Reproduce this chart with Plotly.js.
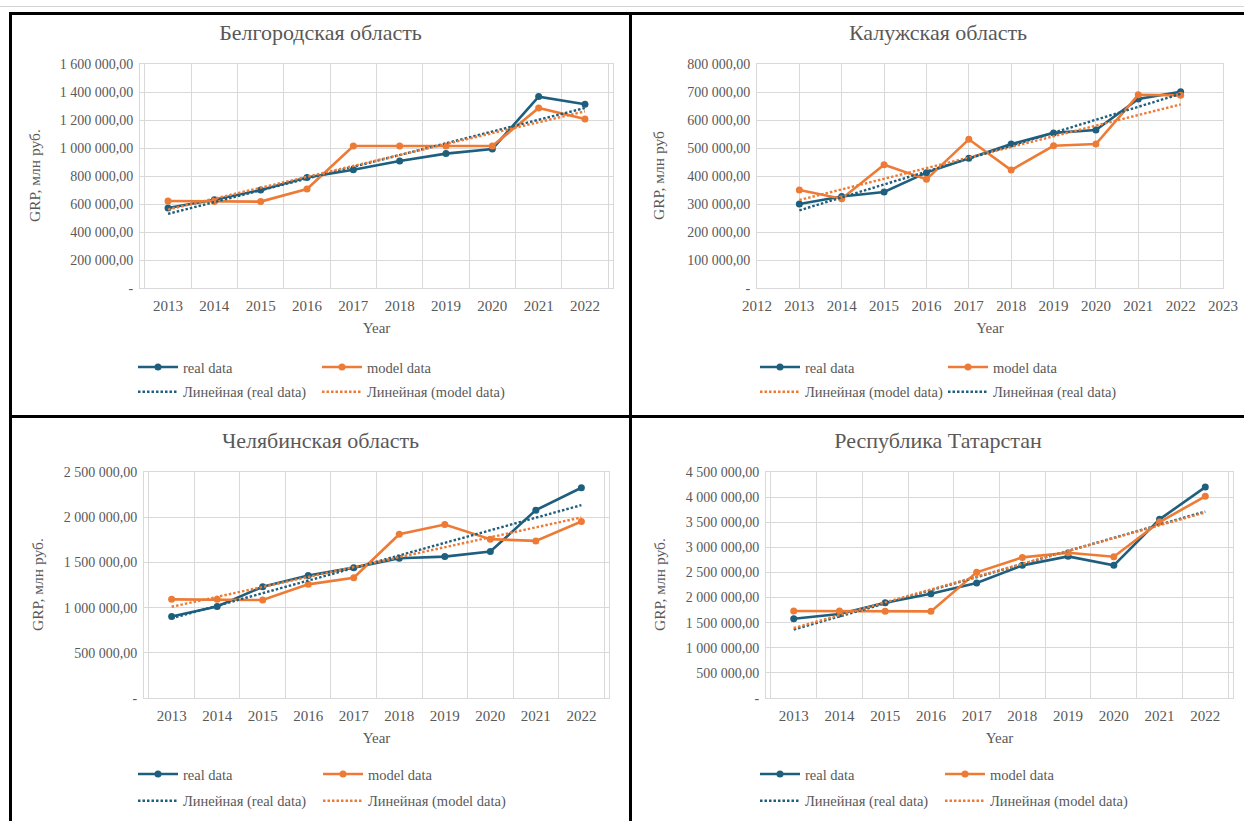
<!DOCTYPE html>
<html>
<head>
<meta charset="utf-8">
<script src="https://cdn.plot.ly/plotly-3.0.1.min.js"></script>
<style>
html,body{margin:0;padding:0;background:#fff;}
body{width:1244px;height:821px;overflow:hidden;position:relative;}
.panel{position:absolute;}
.rule{position:absolute;background:#000;}
</style>
</head>
<body>
<div id="p1" class="panel" style="left:12px;top:15px;width:617px;height:400px"></div>
<div id="p2" class="panel" style="left:632px;top:15px;width:612px;height:400px"></div>
<div id="p3" class="panel" style="left:12px;top:418px;width:617px;height:403px"></div>
<div id="p4" class="panel" style="left:632px;top:418px;width:612px;height:403px"></div>

<div class="rule" style="left:0;top:6px;width:1244px;height:1px;background:#d4d4d4"></div>
<div class="rule" style="left:9px;top:12px;width:1235px;height:3px"></div>
<div class="rule" style="left:9px;top:12px;width:3px;height:809px"></div>
<div class="rule" style="left:629px;top:12px;width:3px;height:809px"></div>
<div class="rule" style="left:9px;top:415px;width:1235px;height:3px"></div>

<script>
// ---------- data ----------
const years = ['2013','2014','2015','2016','2017','2018','2019','2020','2021','2022'];
const yearsNum = [2013,2014,2015,2016,2017,2018,2019,2020,2021,2022];
const kalugaTickYears = [2012,2013,2014,2015,2016,2017,2018,2019,2020,2021,2022,2023];

const belgorodReal  = [571000, 631000, 700000, 790000, 845000, 907000, 960000, 993000, 1367000, 1312000];
const belgorodModel = [621000, 617000, 617000, 707000, 1014000, 1014000, 1014000, 1014000, 1286000, 1207000];

const kalugaReal  = [300000, 327000, 343000, 412000, 463000, 514000, 554000, 564000, 675000, 701000];
const kalugaModel = [350000, 319000, 440000, 388000, 531000, 421000, 508000, 514000, 690000, 688000];

const chelReal  = [902000, 1013000, 1231000, 1354000, 1442000, 1546000, 1564000, 1620000, 2078000, 2326000];
const chelModel = [1091000, 1091000, 1084000, 1257000, 1331000, 1812000, 1919000, 1757000, 1738000, 1953000];

const tatReal  = [1579000, 1672000, 1898000, 2077000, 2289000, 2641000, 2820000, 2641000, 3557000, 4200000];
const tatModel = [1732000, 1732000, 1725000, 1725000, 2502000, 2800000, 2893000, 2813000, 3504000, 4015000];

const belgorodTicks = [0, 200000, 400000, 600000, 800000, 1000000, 1200000, 1400000, 1600000];
const belgorodTickText = ['-', '200 000,00', '400 000,00', '600 000,00', '800 000,00', '1 000 000,00', '1 200 000,00', '1 400 000,00', '1 600 000,00'];
const kalugaTicks = [0, 100000, 200000, 300000, 400000, 500000, 600000, 700000, 800000];
const kalugaTickText = ['-', '100 000,00', '200 000,00', '300 000,00', '400 000,00', '500 000,00', '600 000,00', '700 000,00', '800 000,00'];
const chelTicks = [0, 500000, 1000000, 1500000, 2000000, 2500000];
const chelTickText = ['-', '500 000,00', '1 000 000,00', '1 500 000,00', '2 000 000,00', '2 500 000,00'];
const tatTicks = [0, 500000, 1000000, 1500000, 2000000, 2500000, 3000000, 3500000, 4000000, 4500000];
const tatTickText = ['-', '500 000,00', '1 000 000,00', '1 500 000,00', '2 000 000,00', '2 500 000,00', '3 000 000,00', '3 500 000,00', '4 000 000,00', '4 500 000,00'];

const titles = ['Белгородская область', 'Калужская область', 'Челябинская область', 'Республика Татарстан'];
const yTitles = ['GRP, млн руб.', 'GRP, млн руб', 'GRP, млн руб.', 'GRP, млн руб.'];
const xTitle = 'Year';
const nameReal = 'real data', nameModel = 'model data';
const nameTrendReal = 'Линейная (real data)', nameTrendModel = 'Линейная (model data)';

// ---------- style ----------
const BLUE = '#1f5f7e', ORANGE = '#ee7b35';
const FONT = '"Liberation Serif", "Times New Roman", serif';
const TXT = '#595959', GRID = '#d9d9d9';

// Excel-style linear trendline (least squares over point index)
function trendEnds(ys) {
  const n = ys.length;
  let sx = 0, sy = 0, sxx = 0, sxy = 0;
  for (let i = 0; i < n; i++) { const x = i + 1; sx += x; sy += ys[i]; sxx += x * x; sxy += x * ys[i]; }
  const b = (n * sxy - sx * sy) / (n * sxx - sx * sx);
  const a = (sy - b * sx) / n;
  return [a + b * 1, a + b * n];
}

// col: legend column ('legend' = left column, 'legend2' = right column)
function lineTrace(x, y, name, color, col) {
  return {x: x, y: y, name: name, type: 'scatter', mode: 'lines+markers',
    line: {color: color, width: 2.6}, marker: {color: color, size: 7, symbol: 'circle'},
    legend: col, legendgroup: name, hoverinfo: 'skip'};
}
function trendTrace(x, ys, name, color, col) {
  return {x: [x[0], x[x.length - 1]], y: trendEnds(ys), name: name, type: 'scatter', mode: 'lines',
    line: {color: color, width: 2.4, dash: '2.5px,2px'}, legend: col, legendgroup: name, hoverinfo: 'skip'};
}

function build(id, s) {
  const el = document.getElementById(id);
  const box = {left: el.offsetLeft, top: el.offsetTop, w: el.offsetWidth, h: el.offsetHeight};
  const m = {l: s.plot.x0 - box.left, r: box.left + box.w - s.plot.x1,
             t: s.plot.y0 - box.top, b: box.top + box.h - s.plot.y1, pad: 0, autoexpand: false};
  const legMidY = 1 - ((s.legY1 + s.legY2) / 2 - box.top) / box.h;
  const legendCommon = {orientation: 'v', traceorder: 'grouped', tracegroupgap: s.rowGap,
    xref: 'container', yref: 'container', xanchor: 'left', yanchor: 'middle', y: legMidY,
    bgcolor: 'rgba(0,0,0,0)', borderwidth: 0, itemwidth: 40,
    font: {family: FONT, size: 14.5, color: TXT}, itemclick: false, itemdoubleclick: false};
  const layout = {
    width: box.w, height: box.h, margin: m,
    paper_bgcolor: '#fff', plot_bgcolor: '#fff',
    font: {family: FONT, color: TXT, size: 14},
    showlegend: true,
    title: {text: s.title, font: {family: FONT, size: 22, color: TXT},
      xref: 'container', x: 0.5, xanchor: 'center',
      yref: 'container', y: 1 - (s.titleY - box.top) / box.h, yanchor: 'middle'},
    xaxis: Object.assign({
      showgrid: true, gridcolor: GRID, gridwidth: 1,
      showline: true, linecolor: GRID, linewidth: 1, mirror: true,
      zeroline: false, ticks: '', ticklabelstandoff: 4, tickangle: 0,
      tickfont: {family: FONT, size: 15, color: TXT},
      title: {text: xTitle, font: {family: FONT, size: 15, color: TXT}, standoff: 9},
      fixedrange: true}, s.xaxis),
    yaxis: {
      range: [0, s.yTicks[s.yTicks.length - 1]],
      tickmode: 'array', tickvals: s.yTicks, ticktext: s.yText,
      showgrid: true, gridcolor: GRID, gridwidth: 1,
      showline: true, linecolor: GRID, linewidth: 1, mirror: true,
      zeroline: false, ticks: '', ticklabelstandoff: 3,
      tickfont: {family: FONT, size: 14, color: TXT},
      fixedrange: true},
    annotations: [{
      text: s.yTitle, textangle: -90, showarrow: false,
      xref: 'paper', yref: 'paper',
      x: (s.yTitleX - s.plot.x0) / (s.plot.x1 - s.plot.x0), y: 0.5,
      xanchor: 'center', yanchor: 'middle',
      font: {family: FONT, size: 15.5, color: TXT}}],
    legend: Object.assign({}, legendCommon, {x: (s.legX1 - 5 - box.left) / box.w}),
    legend2: Object.assign({}, legendCommon, {x: (s.legX2 - 5 - box.left) / box.w})
  };
  Plotly.newPlot(el, s.traces, layout, {staticPlot: true, displayModeBar: false});
}

const catAxis = {type: 'category', categoryorder: 'array', categoryarray: years, tickson: 'boundaries'};

build('p1', {
  title: titles[0], yTitle: yTitles[0], titleY: 32, yTitleX: 34,
  plot: {x0: 140, x1: 613, y0: 64, y1: 288},
  yTicks: belgorodTicks, yText: belgorodTickText,
  xaxis: catAxis, legX1: 138, legX2: 322, legY1: 367, legY2: 392, rowGap: 3,
  traces: [lineTrace(years, belgorodReal, nameReal, BLUE, 'legend'), lineTrace(years, belgorodModel, nameModel, ORANGE, 'legend2'),
           trendTrace(years, belgorodReal, nameTrendReal, BLUE, 'legend'), trendTrace(years, belgorodModel, nameTrendModel, ORANGE, 'legend2')]
});

build('p2', {
  title: titles[1], yTitle: yTitles[1], titleY: 32, yTitleX: 658,
  plot: {x0: 757, x1: 1223, y0: 64, y1: 288},
  yTicks: kalugaTicks, yText: kalugaTickText,
  xaxis: {type: 'linear', range: [2012, 2023], tickmode: 'array', tickvals: kalugaTickYears},
  legX1: 760, legX2: 948, legY1: 367, legY2: 392, rowGap: 3,
  traces: [lineTrace(yearsNum, kalugaReal, nameReal, BLUE, 'legend'), lineTrace(yearsNum, kalugaModel, nameModel, ORANGE, 'legend2'),
           trendTrace(yearsNum, kalugaModel, nameTrendModel, ORANGE, 'legend'), trendTrace(yearsNum, kalugaReal, nameTrendReal, BLUE, 'legend2')]
});

build('p3', {
  title: titles[2], yTitle: yTitles[2], titleY: 440, yTitleX: 37,
  plot: {x0: 144, x1: 609, y0: 472, y1: 698},
  yTicks: chelTicks, yText: chelTickText,
  xaxis: catAxis, legX1: 138, legX2: 323, legY1: 774, legY2: 801, rowGap: 5,
  traces: [lineTrace(years, chelReal, nameReal, BLUE, 'legend'), lineTrace(years, chelModel, nameModel, ORANGE, 'legend2'),
           trendTrace(years, chelReal, nameTrendReal, BLUE, 'legend'), trendTrace(years, chelModel, nameTrendModel, ORANGE, 'legend2')]
});

build('p4', {
  title: titles[3], yTitle: yTitles[3], titleY: 440, yTitleX: 659,
  plot: {x0: 766, x1: 1233, y0: 472, y1: 698},
  yTicks: tatTicks, yText: tatTickText,
  xaxis: catAxis, legX1: 760, legX2: 945, legY1: 774, legY2: 801, rowGap: 5,
  traces: [lineTrace(years, tatReal, nameReal, BLUE, 'legend'), lineTrace(years, tatModel, nameModel, ORANGE, 'legend2'),
           trendTrace(years, tatReal, nameTrendReal, BLUE, 'legend'), trendTrace(years, tatModel, nameTrendModel, ORANGE, 'legend2')]
});
</script>
</body>
</html>
